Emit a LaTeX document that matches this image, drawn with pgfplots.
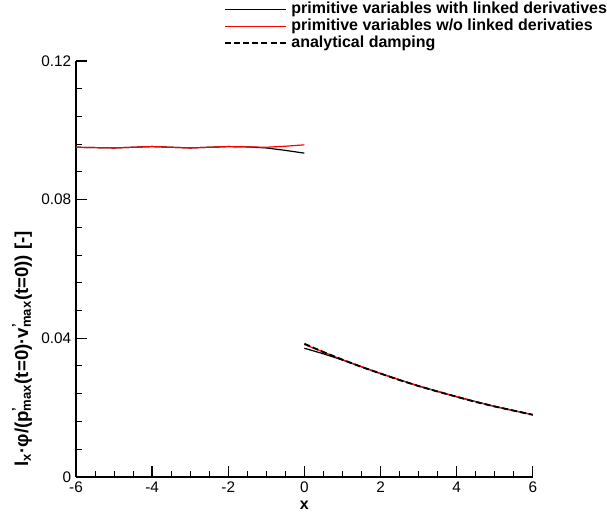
\documentclass[border=0pt]{standalone}
\usepackage{fontspec}
\setmainfont{Liberation Sans}
\usepackage{pgfplots}
\pgfplotsset{compat=1.18}
% p'_max with the prime stacked over the subscript
\newcommand{\pmx}[1]{#1\rlap{\textsuperscript{'}}\textsubscript{max}}

\begin{document}
\begin{tikzpicture}
\begin{axis}[
    scale only axis,
    width=342.75pt, height=312pt,
    xmin=-6, xmax=6, ymin=0, ymax=0.12,
    axis lines=left,
    axis line style={-, line width=1.4pt},
    tick align=inside,
    major tick length=8pt, minor tick length=4.5pt,
    major tick style={black, line width=1pt},
    minor tick style={black, line width=0.7pt},
    xtick={-6,-4,-2,0,2,4,6},
    xticklabels={-6,-4,-2,0,2,4,6},
    ytick={0,0.04,0.08,0.12},
    yticklabels={0,0.04,0.08,0.12},
    minor x tick num=3,
    minor y tick num=4,
    /pgf/number format/assume math mode=true,
    tick label style={font=\fontsize{11.5}{13}\selectfont},
    xlabel={x},
    xlabel style={font=\fontsize{12}{14}\selectfont\bfseries,
        at={(rel axis cs:0.5,0)}, anchor=center, yshift=-21pt},
    ylabel={l\textsubscript{x}·φ/(\pmx{p}(t=0)·\pmx{v}(t=0)) [-]},
    ylabel style={font=\fontsize{14}{16}\selectfont\bfseries,
        at={(axis description cs:-0.1182,0.308)}, anchor=center},
    legend style={draw=none, fill=none, at={(0.324,1.142)}, anchor=north west,
        font=\fontsize{12}{14}\selectfont\bfseries, inner sep=0pt,
        row sep=2.15pt, column sep=3pt,
        nodes={inner sep=0pt, text height=8.6pt, text depth=2pt}},
    legend cell align=left,
    legend image code/.code={\draw[#1] (0pt,0pt) -- (46pt,0pt);},
]
\path (rel axis cs:0,0) coordinate (o);

% primitive variables with linked derivatives
\addplot[black, line width=0.9pt, forget plot] coordinates {
    (-6,0.0951) (-5.5,0.0950) (-5,0.0949) (-4.5,0.0951) (-4,0.0953)
    (-3.5,0.0951) (-3,0.0949) (-2.5,0.0951) (-2,0.0953) (-1.5,0.0952)
    (-1,0.0949) (-0.5,0.0942) (0,0.0934)
};
\addplot[black, line width=0.9pt] coordinates {
    (0,0.0371) (0.5,0.0355) (1,0.0337) (2,0.0298) (3,0.0262)
    (4,0.0231) (5,0.0203) (6,0.0179)
};

% primitive variables w/o linked derivatives
\addplot[red, line width=0.9pt, forget plot] coordinates {
    (-6,0.0951) (-5.5,0.0950) (-5,0.0949) (-4.5,0.0951) (-4,0.0953)
    (-3.5,0.0951) (-3,0.0949) (-2.5,0.0951) (-2,0.0953) (-1.5,0.0952)
    (-1,0.0951) (-0.5,0.0954) (0,0.0958)
};
\addplot[red, line width=0.9pt] coordinates {
    (0,0.0382) (0.5,0.0360) (1,0.0338) (2,0.0298) (3,0.0262)
    (4,0.0231) (5,0.0203) (6,0.0179)
};

% analytical damping
\addplot[black, line width=1.4pt, dash pattern=on 4.5pt off 2.3pt] coordinates {
    (0,0.0384) (0.5,0.0360) (1,0.0338) (1.5,0.0317) (2,0.0298) (2.5,0.0279)
    (3,0.0262) (3.5,0.0246) (4,0.0231) (4.5,0.0216) (5,0.0203)
    (5.5,0.0191) (6,0.0179)
};

\legend{primitive variables with linked derivatives,
        primitive variables w/o linked derivaties,
        analytical damping}
\end{axis}
% page frame as in the reference
\path (o) ++(-57pt,-29.25pt) rectangle ++(455.25pt,387pt);
\end{tikzpicture}
\end{document}
